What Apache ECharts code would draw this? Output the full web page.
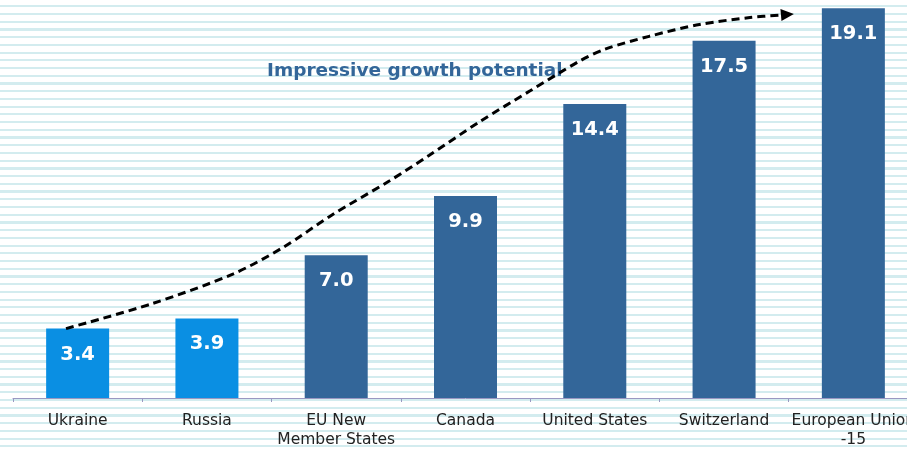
<!DOCTYPE html>
<html>
<head>
<meta charset="utf-8">
<script src="https://cdn.jsdelivr.net/npm/echarts@6/dist/echarts.min.js"></script>
<style>
  html, body { margin: 0; padding: 0; background: #fff; overflow: hidden; }
  #wrap { width: 907px; height: 449px; overflow: hidden; position: relative;
    background: repeating-linear-gradient(180deg,
      #ffffff 0px, #ffffff 5.2px,
      #d3ecef 5.2px, #d3ecef 7.4px,
      #ffffff 7.4px, #ffffff 7.72px);
  }
  /* the plot runs past the right edge, so the canvas is wider than the frame */
  #chart { width: 940px; height: 449px; position: absolute; left: 0; top: 0; }
</style>
</head>
<body>
<div id="wrap"><div id="chart"></div></div>
<script>
// Countries compared
const categories = ['Ukraine', 'Russia', 'EU New\nMember States', 'Canada', 'United States', 'Switzerland', 'European Union\n-15'];
// Value per country
const values = [3.4, 3.9, 7.0, 9.9, 14.4, 17.5, 19.1];
// Bar fill: the two emerging markets are highlighted
const barColors = ['#0a8fe3', '#0a8fe3', '#336699', '#336699', '#336699', '#336699', '#336699'];
// Growth trend arrow, in category-position / value units
const trendX = [-0.09, 0.57, 1.20, 1.59, 1.97, 2.41, 2.72, 3.11, 3.50, 3.88, 4.08, 4.42, 4.81, 5.20, 5.44];
const trendY = [3.40, 4.61, 6.07, 7.38, 8.98, 10.63, 11.89, 13.54, 15.05, 16.50, 17.09, 17.72, 18.30, 18.64, 18.76];
const arrowHead = [5.49, 18.79];
const annotation = 'Impressive growth potential';

const chart = echarts.init(document.getElementById('chart'), null, { renderer: 'canvas' });

chart.setOption({
  backgroundColor: 'transparent',
  animation: false,
  title: {
    text: annotation,
    left: 267, top: 61, padding: 0, z: 1,
    textStyle: { fontFamily: 'DejaVu Sans', fontSize: 18.5, fontWeight: 'bold', color: '#336699', lineHeight: 21 }
  },
  grid: { left: 13, width: 905, top: 0, bottom: 47, containLabel: false },
  xAxis: [
    {
      type: 'category',
      data: categories,
      boundaryGap: true,
      axisLine: { show: true, lineStyle: { color: '#9a98c2', width: 1 } },
      axisTick: { show: true, alignWithLabel: false, interval: 0, length: 4, lineStyle: { color: '#9a98c2', width: 1 } },
      axisLabel: {
        interval: 0, margin: 13,
        fontFamily: 'DejaVu Sans', fontSize: 15.5, lineHeight: 19, color: '#222'
      }
    },
    { type: 'value', min: -0.5, max: 6.5, show: false }
  ],
  yAxis: { type: 'value', min: 0, max: 19.5, show: false, splitLine: { show: false } },
  series: [
    {
      type: 'bar',
      barWidth: 63,
      data: values.map((v, i) => ({ value: v, itemStyle: { color: barColors[i] } })),
      label: {
        show: true, position: 'insideTop', distance: 16,
        formatter: p => p.value.toFixed(1),
        fontFamily: 'DejaVu Sans', fontSize: 19.5, fontWeight: 'bold', color: '#ffffff'
      }
    },
    {
      type: 'line',
      xAxisIndex: 1,
      z: 10,
      smooth: 0.3,
      symbol: 'none',
      clip: false,
      data: trendX.map((x, i) => [x, trendY[i]]),
      lineStyle: { color: '#000', width: 3, type: [8, 5] }
    },
    {
      type: 'scatter',
      xAxisIndex: 1,
      z: 11,
      symbol: 'triangle',
      symbolSize: [12, 13],
      symbolRotate: -85,
      itemStyle: { color: '#000', opacity: 1 },
      data: [arrowHead]
    }
  ]
});
</script>
</body>
</html>
